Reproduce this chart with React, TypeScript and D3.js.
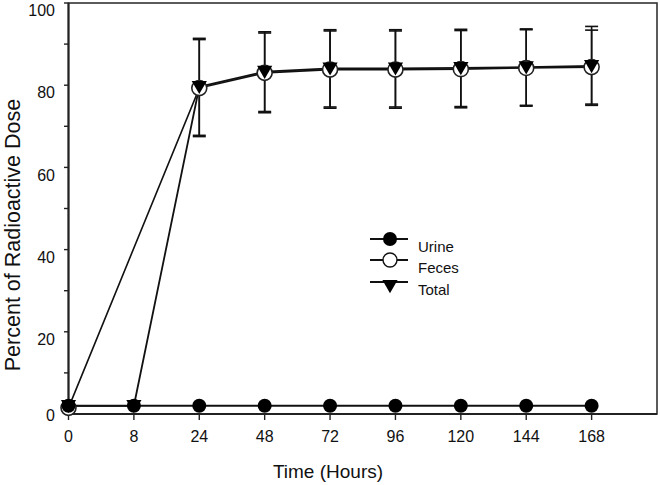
import React from "react";
import * as d3 from "d3";

// hours sampled (axis is categorical, evenly spaced)
const times = ["0", "8", "24", "48", "72", "96", "120", "144", "168"];
const urine = [2, 2, 2, 2, 2, 2, 2, 2, 2];
// feces has no 8 h point: its line runs straight from 0 h to 24 h
const feces = [1.5, null, 79.3, 83.0, 83.8, 83.8, 83.9, 84.2, 84.4];
const fecesErr = [0, 0, 11.8, 9.7, 9.4, 9.4, 9.4, 9.3, 9.0];
const total = [2, 2, 79.6, 83.3, 84.1, 84.1, 84.2, 84.4, 84.7];
const totalErr = [0, 0, 11.8, 9.7, 9.4, 9.4, 9.4, 9.3, 9.6];
const yMajor = [0, 20, 40, 60, 80, 100];
const yMinor = [10, 30, 50, 70, 90];
const legendItems = ["Urine", "Feces", "Total"];

const W = 660;
const H = 485;
const left = 68.5;
const right = 657;
const top = 3;
const bottom = 414;
const step = (right - left) / 9;
const font = "'Liberation Sans', Arial, sans-serif";

const App = () => {
  const x = d3
    .scalePoint<string>()
    .domain(times)
    .range([left, left + step * 8]);
  const y = d3.scaleLinear().domain([0, 100]).range([bottom, top]);

  const toPts = (vals: (number | null)[]) =>
    vals
      .map((v, i) => (v == null ? null : { t: times[i], v, i }))
      .filter((d) => d !== null) as { t: string; v: number; i: number }[];

  const line = d3
    .line<{ t: string; v: number }>()
    .x((d) => x(d.t)!)
    .y((d) => y(d.v));

  const tri = d3.symbol(d3.symbolTriangle, 100)()!;

  const urinePts = toPts(urine);
  const fecesPts = toPts(feces);
  const totalPts = toPts(total);

  const errBar = (pts: { t: string; v: number; i: number }[], errs: number[], key: string) =>
    pts
      .filter((d) => errs[d.i] > 0)
      .map((d) => {
        const cx = x(d.t)!;
        const y1 = y(d.v + errs[d.i]);
        const y2 = y(d.v - errs[d.i]);
        return (
          <g key={key + d.t} stroke="#111" strokeWidth={1.6}>
            <line x1={cx} x2={cx} y1={y1} y2={y2} />
            <line x1={cx - 6.5} x2={cx + 6.5} y1={y1} y2={y1} />
            <line x1={cx - 6.5} x2={cx + 6.5} y1={y2} y2={y2} />
          </g>
        );
      });

  const legendX = 390;
  const legendY = [239, 260, 282];

  return (
    <svg
      width={W}
      height={H}
      style={{ position: "absolute", left: 0, top: 0, background: "#fff" }}
      fontFamily={font}
    >
      {/* frame */}
      <rect x={left} y={top} width={right - left} height={bottom - top} fill="none" stroke="#333" strokeWidth={1.6} />
      <line x1={left} x2={left} y1={top} y2={bottom} stroke="#222" strokeWidth={2} />
      <line x1={left} x2={right} y1={bottom} y2={bottom} stroke="#222" strokeWidth={2} />

      {/* y ticks */}
      {yMajor.concat(yMinor).map((v) => (
        <line key={"yt" + v} x1={left - 4.5} x2={left} y1={y(v)} y2={y(v)} stroke="#222" strokeWidth={1.4} />
      ))}
      {yMajor.map((v) => (
        <text
          key={"yl" + v}
          x={55}
          y={y(v) + (v === 0 ? 3 : 9)}
          textAnchor="end"
          dominantBaseline="middle"
          fontSize={16}
          fill="#111"
        >
          {v}
        </text>
      ))}

      {/* x ticks */}
      {times.map((t) => (
        <g key={"xt" + t}>
          <line x1={x(t)} x2={x(t)} y1={bottom} y2={bottom + 6} stroke="#222" strokeWidth={1.4} />
          <text x={x(t)} y={442} textAnchor="middle" fontSize={16} fill="#111">
            {t}
          </text>
        </g>
      ))}

      {/* axis titles */}
      <text x={328} y={478} textAnchor="middle" fontSize={19} fill="#111">
        Time (Hours)
      </text>
      <text
        transform={`translate(20, 235) rotate(-90)`}
        textAnchor="middle"
        fontSize={21.5}
        fill="#111"
      >
        Percent of Radioactive Dose
      </text>

      {/* series lines */}
      <path d={line(fecesPts)!} fill="none" stroke="#111" strokeWidth={1.6} />
      <path d={line(totalPts)!} fill="none" stroke="#111" strokeWidth={1.8} />
      <path d={line(urinePts)!} fill="none" stroke="#111" strokeWidth={2} />

      {/* error bars */}
      {errBar(fecesPts, fecesErr, "fe")}
      {errBar(totalPts, totalErr, "te")}

      {/* markers */}
      {fecesPts.map((d) => (
        <circle key={"f" + d.t} cx={x(d.t)} cy={y(d.v)} r={7.5} fill="#fff" stroke="#222" strokeWidth={1.6} />
      ))}
      {totalPts.map((d) => (
        <path
          key={"t" + d.t}
          d={tri}
          transform={`translate(${x(d.t)}, ${y(d.v) - 1.5}) rotate(180)`}
          fill="#000"
        />
      ))}
      {urinePts.map((d) => (
        <circle key={"u" + d.t} cx={x(d.t)} cy={y(d.v)} r={7} fill="#000" />
      ))}

      {/* legend */}
      {legendItems.map((name, i) => (
        <g key={"lg" + name}>
          <line x1={legendX - 20} x2={legendX + 18} y1={legendY[i]} y2={legendY[i]} stroke="#111" strokeWidth={2} />
          {i === 0 && <circle cx={legendX} cy={legendY[i]} r={7} fill="#000" />}
          {i === 1 && <circle cx={legendX} cy={legendY[i]} r={7} fill="#fff" stroke="#111" strokeWidth={1.4} />}
          {i === 2 && (
            <path d={tri} transform={`translate(${legendX}, ${legendY[i] + 2.5}) rotate(180)`} fill="#000" />
          )}
          <text x={418} y={legendY[i] + 13} fontSize={15} fill="#111">
            {name}
          </text>
        </g>
      ))}
    </svg>
  );
};

export default App;
